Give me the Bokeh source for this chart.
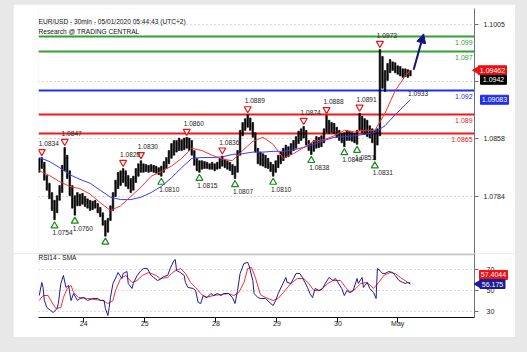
import math
from bokeh.plotting import figure
from bokeh.models import Range1d, FixedTicker, Span, Label, Arrow, NormalHead
from bokeh.layouts import column
from bokeh.embed import file_html
from bokeh.resources import INLINE
from bokeh.core.properties import value

FONT = "Liberation Sans"

TITLE1 = "EUR/USD - 30min - 05/01/2020 05:44:43 (UTC+2)"
TITLE2 = "Research @ TRADING CENTRAL"

# ---- price data (30-min bars, sampled every 2 bars) ----
bars = list(range(0, 293, 2))
highs = [
    1.0833, 1.0834, 1.0828, 1.0811, 1.0801, 1.0789, 1.0779, 1.0785, 1.0798, 1.0824,
    1.0847, 1.0837, 1.0817, 1.0798, 1.0785, 1.0789, 1.0787, 1.0788, 1.0784, 1.0781,
    1.0779, 1.0778, 1.0779, 1.0775, 1.0770, 1.0763, 1.0753, 1.0756, 1.0772, 1.0789,
    1.0805, 1.0815, 1.0817, 1.0820, 1.0817, 1.0811, 1.0807, 1.0810, 1.0820, 1.0826,
    1.0830, 1.0826, 1.0825, 1.0824, 1.0825, 1.0824, 1.0823, 1.0821, 1.0823, 1.0829,
    1.0834, 1.0843, 1.0852, 1.0856, 1.0856, 1.0859, 1.0857, 1.0859, 1.0860, 1.0859,
    1.0856, 1.0843, 1.0833, 1.0830, 1.0830, 1.0829, 1.0828, 1.0826, 1.0828, 1.0826,
    1.0828, 1.0833, 1.0836, 1.0832, 1.0830, 1.0828, 1.0825, 1.0823, 1.0843, 1.0869,
    1.0879, 1.0884, 1.0889, 1.0885, 1.0879, 1.0866, 1.0846, 1.0841, 1.0839, 1.0837,
    1.0833, 1.0828, 1.0825, 1.0830, 1.0837, 1.0841, 1.0846, 1.0850, 1.0848, 1.0852,
    1.0856, 1.0861, 1.0868, 1.0871, 1.0874, 1.0869, 1.0856, 1.0852, 1.0856, 1.0861,
    1.0860, 1.0862, 1.0871, 1.0888, 1.0882, 1.0879, 1.0878, 1.0873, 1.0869, 1.0865,
    1.0866, 1.0869, 1.0868, 1.0866, 1.0865, 1.0869, 1.0891, 1.0887, 1.0884, 1.0882,
    1.0875, 1.0871, 1.0869, 1.0871, 1.0973, 1.0964, 1.0946, 1.0955, 1.0960, 1.0957,
    1.0956, 1.0952, 1.0951, 1.0948, 1.0948, 1.0947, 1.0946]
lows = [
    1.0815, 1.0820, 1.0805, 1.0792, 1.0781, 1.0766, 1.0754, 1.0763, 1.0779, 1.0789,
    1.0817, 1.0807, 1.0785, 1.0769, 1.0760, 1.0772, 1.0772, 1.0774, 1.0771, 1.0769,
    1.0766, 1.0767, 1.0769, 1.0763, 1.0758, 1.0747, 1.0733, 1.0738, 1.0753, 1.0766,
    1.0784, 1.0794, 1.0798, 1.0802, 1.0797, 1.0794, 1.0789, 1.0792, 1.0802, 1.0810,
    1.0815, 1.0815, 1.0816, 1.0815, 1.0816, 1.0815, 1.0814, 1.0812, 1.0810, 1.0815,
    1.0820, 1.0826, 1.0833, 1.0837, 1.0841, 1.0843, 1.0843, 1.0844, 1.0846, 1.0843,
    1.0837, 1.0824, 1.0817, 1.0815, 1.0819, 1.0820, 1.0820, 1.0819, 1.0819, 1.0817,
    1.0819, 1.0820, 1.0823, 1.0821, 1.0819, 1.0817, 1.0812, 1.0807, 1.0815, 1.0837,
    1.0862, 1.0869, 1.0873, 1.0869, 1.0860, 1.0841, 1.0826, 1.0824, 1.0823, 1.0821,
    1.0820, 1.0816, 1.0810, 1.0815, 1.0821, 1.0826, 1.0830, 1.0834, 1.0835, 1.0838,
    1.0843, 1.0846, 1.0852, 1.0856, 1.0859, 1.0850, 1.0843, 1.0838, 1.0842, 1.0846,
    1.0847, 1.0848, 1.0853, 1.0866, 1.0865, 1.0866, 1.0865, 1.0860, 1.0856, 1.0853,
    1.0848, 1.0856, 1.0856, 1.0855, 1.0853, 1.0851, 1.0869, 1.0866, 1.0864, 1.0861,
    1.0859, 1.0853, 1.0831, 1.0850, 1.0862, 1.0923, 1.0919, 1.0933, 1.0943, 1.0946,
    1.0943, 1.0941, 1.0939, 1.0937, 1.0938, 1.0937, 1.0939]

# moving averages (every 8 bars + last bar)
ma_x = list(range(0, 289, 8)) + [292]
ma_fast = [1.0817, 1.0811, 1.0803, 1.0797, 1.0794, 1.0787, 1.0776, 1.0766, 1.0772, 1.0784,
           1.0796, 1.0810, 1.0816, 1.0823, 1.0833, 1.0846, 1.0843, 1.0837, 1.0832, 1.0830,
           1.0843, 1.0855, 1.0860, 1.0851, 1.0833, 1.0839, 1.0847, 1.0855, 1.0857, 1.0862,
           1.0869, 1.0867, 1.0869, 1.0869, 1.0891, 1.0920, 1.0939, 1.09462]
ma_slow = [1.0834, 1.0829, 1.0821, 1.0812, 1.0806, 1.0801, 1.0792, 1.0783, 1.0780, 1.0780,
           1.0783, 1.0789, 1.0797, 1.0808, 1.0821, 1.0833, 1.0834, 1.0834, 1.0835, 1.0838,
           1.0839, 1.0841, 1.0841, 1.0842, 1.0842, 1.0844, 1.0847, 1.0851, 1.0856, 1.0860,
           1.0861, 1.0862, 1.0864, 1.0866, 1.0875, 1.0889, 1.0902, 1.09083]

# key levels
levels = [1.099, 1.097, 1.092, 1.089, 1.0865]
level_labels = ["1.099", "1.097", "1.092", "1.089", "1.0865"]
level_colors = ["#33a033", "#33a033", "#1f30ee", "#f01818", "#f01818"]

# pivots
piv_x = [2, 20, 12, 28, 52, 66, 80, 96, 116, 126, 144, 154, 164, 184, 208, 214, 226, 240, 250, 252, 264, 268]
piv_y = [1.0834, 1.0847, 1.0754, 1.0760, 1.0733, 1.0820, 1.0830, 1.0810, 1.0860, 1.0815, 1.0836,
         1.0807, 1.0889, 1.0810, 1.0874, 1.0838, 1.0888, 1.0848, 1.0851, 1.0891, 1.0831, 1.0973]
piv_kind = ["H", "H", "L", "L", "L", "H", "H", "L", "H", "L", "H", "L", "H", "L", "H", "L", "H", "L", "L", "H", "L", "H"]
piv_text = ["1.0834", "1.0847", "1.0754", "1.0760", "", "1.0820", "1.0830", "1.0810", "1.0860", "1.0815",
            "1.0836", "1.0807", "1.0889", "1.0810", "1.0874", "1.0838", "1.0888", "1.0848", "1.0851",
            "1.0891", "1.0831", "1.0973"]
extra_note_x, extra_note_y, extra_note = [298], [1.0916], ["1.0933"]

# projection arrow
arrow_x0, arrow_y0, arrow_x1, arrow_y1 = 294.5, 1.0947, 302.4, 1.0993

# price axis
price_ticks = [1.0784, 1.0858, 1.0932, 1.1005]
price_tick_labels = ["1.0784", "1.0858", "", "1.1005"]
last_price, last_price_text = 1.0934, "1.0942"
fast_last_text, slow_last_text = "1.09462", "1.09083"

# RSI
rsi_x = [0, 2, 3, 4, 6, 9, 11, 14, 15, 17, 19, 21, 23, 25, 27, 30, 32, 35, 38, 42, 46, 48, 51, 52, 54, 55,
         56, 58, 61, 62, 65, 66, 69, 70, 73, 74, 77, 80, 82, 85, 88, 90, 93, 95, 98, 101, 103, 106, 107,
         108, 111, 114, 115, 117, 121, 123, 125, 127, 129, 132, 135, 137, 140, 143, 145, 149, 152, 154,
         156, 158, 161, 164, 165, 168, 169, 172, 174, 178, 182, 184, 186, 188, 191, 194, 195, 198, 200,
         202, 205, 207, 209, 211, 213, 215, 217, 220, 223, 225, 228, 231, 233, 235, 238, 240, 242, 244,
         247, 250, 251, 254, 255, 258, 260, 263, 265, 266, 268, 270, 272, 275, 278, 280, 283, 286, 288,
         290, 292]
rsi_v = [45.2, 57.6, 52.9, 40.5, 33.8, 31.0, 29.0, 32.9, 37.6, 56.7, 64.3, 52.9, 54.8, 40.5, 47.1, 40.5,
         42.4, 43.3, 40.5, 42.4, 42.4, 40.5, 40.5, 32.9, 26.2, 33.8, 43.3, 56.7, 64.3, 67.1, 61.4, 66.2,
         68.1, 56.7, 51.9, 56.7, 64.3, 69.0, 71.0, 71.0, 64.3, 62.4, 59.5, 60.5, 63.3, 64.3, 71.0, 78.6,
         79.5, 69.0, 67.1, 64.3, 57.6, 52.9, 51.9, 50.0, 38.6, 37.6, 45.2, 43.3, 47.1, 45.2, 47.1, 45.2,
         47.1, 47.1, 43.3, 37.6, 50.0, 66.2, 75.7, 76.7, 73.8, 59.5, 47.1, 43.3, 42.4, 42.4, 37.6, 35.7,
         40.5, 47.1, 54.8, 62.4, 57.6, 56.7, 61.4, 66.2, 66.2, 62.4, 57.6, 52.9, 47.1, 43.3, 51.9, 50.0,
         51.9, 56.7, 62.4, 59.5, 61.4, 57.6, 51.9, 45.2, 50.0, 48.1, 50.0, 61.4, 56.7, 62.4, 52.9, 57.6,
         51.9, 48.1, 42.4, 71.0, 69.0, 66.2, 66.2, 68.1, 67.1, 64.3, 59.5, 57.6, 56.7, 57.6, 56.175]
sma_x = [0, 3, 7, 10, 13, 17, 19, 22, 25, 27, 31, 38, 44, 50, 54, 58, 60, 64, 68, 73, 77, 81, 86, 92, 95,
         101, 106, 111, 115, 119, 123, 127, 131, 137, 143, 149, 153, 157, 161, 164, 167, 170, 174, 178,
         184, 188, 192, 198, 203, 208, 212, 216, 221, 227, 231, 237, 241, 245, 249, 253, 258, 263, 267,
         271, 276, 280, 284, 290, 292]
sma_v = [40.5, 45.2, 45.2, 38.6, 32.9, 33.8, 43.3, 51.9, 54.8, 48.1, 43.3, 42.4, 41.4, 40.5, 37.6, 40.5,
         50.0, 61.4, 64.3, 57.6, 59.5, 64.3, 67.1, 64.3, 61.4, 62.4, 68.1, 71.0, 66.2, 57.6, 52.9, 47.1,
         43.3, 45.2, 46.2, 47.1, 45.2, 48.1, 57.6, 71.0, 71.9, 62.4, 46.0, 43.3, 40.5, 42.4, 48.1, 56.7,
         61.4, 61.4, 56.7, 50.0, 50.0, 56.7, 59.5, 59.5, 52.9, 48.1, 51.9, 56.7, 57.6, 51.9, 57.6, 64.3,
         67.1, 66.2, 62.4, 57.6, 57.4044]
rsi_ticks = [30, 50, 70]
rsi_last_text, sma_last_text = "56.175", "57.4044"
sma_label_y = 64.8

day_ticks = [35, 83, 139, 187, 235, 282]
day_labels = ["24", "25", "28", "29", "30", "May"]

# ---------------- figures ----------------
xr = Range1d(-0.6, 342.4)
FRAME_L, FRAME_W = 38, 436
PXB = FRAME_W / (xr.end - xr.start)


def xpx(px):
    return xr.start + (px - FRAME_L) / PXB


P_LO, P_HI = 1.07107, 1.10256
FRAME_H = 245
px_price = (P_HI - P_LO) / FRAME_H
FS = "6.6px"

main = figure(width=502, height=249, x_range=xr, y_range=Range1d(P_LO, P_HI),
              output_backend="svg", toolbar_location=None, x_axis_location=None,
              y_axis_location="right", min_border_left=25, min_border_right=41,
              min_border_top=4, min_border_bottom=0, outline_line_color=None,
              background_fill_color="white", border_fill_color="white")
main.margin = (4, 12, 0, 13)
main.xgrid.visible = False
main.ygrid.ticker = FixedTicker(ticks=price_ticks)
main.ygrid.grid_line_color = "#b5b5b5"
main.ygrid.grid_line_dash = "1 3"
ya = main.yaxis[0]
ya.ticker = FixedTicker(ticks=price_ticks)
ya.major_label_overrides = {t: l for t, l in zip(price_ticks, price_tick_labels)}
ya.axis_line_color = "#707070"
ya.major_tick_line_color = "#707070"
ya.major_tick_out = 4
ya.major_tick_in = 0
ya.minor_tick_line_color = None
ya.major_label_standoff = 5
ya.major_label_text_font = FONT
ya.major_label_text_font_size = "7px"
ya.major_label_text_color = "#222222"

# level lines
main.hspan(y=levels, line_color=level_colors, line_width=2)
main.text(x=[xr.end - 1.5] * len(levels), y=levels, text=level_labels, text_color=level_colors,
          text_align="right", text_baseline="middle", y_offset=6,
          text_font=value(FONT), text_font_size=value("7px"))

# candles
main.vbar(x=bars, top=highs, bottom=lows, width=1.25, fill_color="black", line_color="black", line_width=0.6)

# moving averages
main.line(ma_x, ma_slow, line_color="#3a3aff", line_width=1)
main.line(ma_x, ma_fast, line_color="#ff3030", line_width=1)

# pivots
hx = [x for x, k in zip(piv_x, piv_kind) if k == "H"]
hy = [y for y, k in zip(piv_y, piv_kind) if k == "H"]
ht = [t for t, k in zip(piv_text, piv_kind) if k == "H"]
lx = [x for x, k in zip(piv_x, piv_kind) if k == "L"]
ly = [y for y, k in zip(piv_y, piv_kind) if k == "L"]
lt = [t for t, k in zip(piv_text, piv_kind) if k == "L"]
main.scatter(hx, [y + 6 * px_price for y in hy], marker="inverted_triangle", size=7,
             fill_color="white", line_color="#ee1111", line_width=1.2)
main.scatter(lx, [y - 6 * px_price for y in ly], marker="triangle", size=7,
             fill_color="white", line_color="#1a8a1a", line_width=1.2)
main.text(x=hx, y=hy, text=ht, text_align="center", text_baseline="middle", x_offset=7, y_offset=-14,
          text_color="#222222", text_font=value(FONT), text_font_size=value(FS))
main.text(x=lx, y=ly, text=lt, text_align="center", text_baseline="middle", x_offset=8, y_offset=13,
          text_color="#222222", text_font=value(FONT), text_font_size=value(FS))
main.text(x=extra_note_x, y=extra_note_y, text=extra_note, text_align="center", text_baseline="middle",
          text_color="#222222", text_font=value(FONT), text_font_size=value(FS))

# arrow
main.add_layout(Arrow(x_start=arrow_x0, y_start=arrow_y0, x_end=arrow_x1, y_end=arrow_y1,
                      line_color="#14147a", line_width=2,
                      end=NormalHead(size=9, fill_color="#14147a", line_color="#14147a")))

# titles
for txt, yy in [(TITLE1, FRAME_H - 13), (TITLE2, FRAME_H - 23)]:
    main.add_layout(Label(x=0, y=yy, x_units="screen", y_units="screen", text=txt,
                          text_font=FONT, text_font_size=FS, text_color="#111111",
                          text_baseline="middle"))


def box(fig, cx_px, y, text, bg, w=29, h=9, tag=False):
    x = xpx(cx_px)
    fig.rect(x=[x], y=[y], width=w, height=h, width_units="screen", height_units="screen",
             fill_color=bg, line_color=bg, level="overlay")
    fig.text(x=[x], y=[y], text=[text], text_color="white", text_align="center",
             text_baseline="middle", text_font=value(FONT), text_font_size=value("7px"),
             level="overlay")
    if tag:
        fig.scatter(x=[xpx(cx_px - w / 2 - 2)], y=[y], marker="triangle", angle=math.pi / 2,
                    size=7, fill_color=bg, line_color=bg, level="overlay")


box(main, 492, ma_fast[-1], fast_last_text, "#ee1111", w=28, tag=True)
box(main, 493, last_price, last_price_text, "black", w=26)
box(main, 494, ma_slow[-1], slow_last_text, "#1f30ee", w=28)

# ---------------- RSI ----------------
rsi = figure(width=502, height=84, x_range=xr, y_range=Range1d(24.3, 85.2),
             output_backend="svg", toolbar_location=None, y_axis_location="right",
             min_border_left=25, min_border_right=41, min_border_top=0, min_border_bottom=20,
             outline_line_color=None, background_fill_color="white", border_fill_color="white")
rsi.margin = (0, 12, 15, 13)
rsi.xgrid.visible = False
rsi.ygrid.ticker = FixedTicker(ticks=rsi_ticks)
rsi.ygrid.grid_line_color = "#b5b5b5"
rsi.ygrid.grid_line_dash = "1 3"
ra = rsi.yaxis[0]
ra.ticker = FixedTicker(ticks=rsi_ticks)
ra.axis_line_color = "#707070"
ra.major_tick_line_color = "#707070"
ra.major_tick_out = 4
ra.major_tick_in = 0
ra.minor_tick_line_color = None
ra.major_label_standoff = 8
ra.major_label_text_font = FONT
ra.major_label_text_font_size = "7px"
ra.major_label_text_color = "#222222"
xa = rsi.xaxis[0]
xa.ticker = FixedTicker(ticks=day_ticks)
xa.major_label_overrides = {t: l for t, l in zip(day_ticks, day_labels)}
xa.major_label_text_align = "left"
xa.major_label_standoff = -3
xa.major_tick_out = 5
xa.major_tick_in = 0
xa.minor_tick_line_color = None
xa.axis_line_color = "#111111"
xa.major_tick_line_color = "#111111"
xa.major_label_text_font = FONT
xa.major_label_text_font_size = "7px"
xa.major_label_text_color = "#222222"

rsi.add_layout(Span(location=84.4, dimension="width", line_color="#c4c4c4", line_width=2))
rsi.line(sma_x, sma_v, line_color="#ff2a2a", line_width=1)
rsi.line(rsi_x, rsi_v, line_color="#1c1c96", line_width=1)
rsi.add_layout(Label(x=0, y=60, x_units="screen", y_units="screen", text="RSI14 - SMA",
                     text_font=FONT, text_font_size="6.5px", text_color="#111111", text_baseline="middle"))
box(rsi, 493, sma_label_y, sma_last_text, "#ee1111", w=28)
box(rsi, 492, rsi_v[-1], rsi_last_text, "#1c1c96", w=25, tag=True)

layout = column(main, rsi, styles={"background-color": "#e8e8e8"})
open("out.html", "w").write(file_html(layout, INLINE))
